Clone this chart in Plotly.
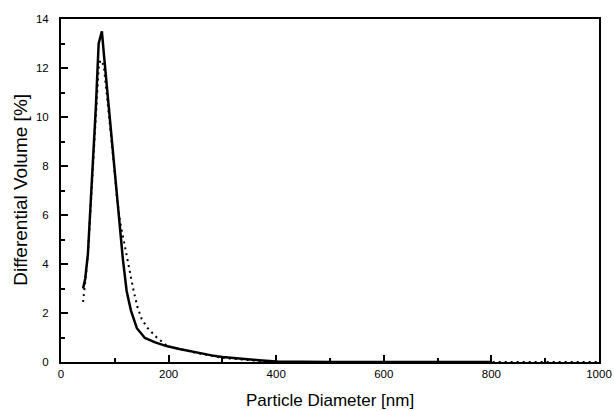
import plotly.graph_objects as go

# solid curve
solid_x = [41, 45, 50, 55, 60, 65, 70, 76, 80, 85, 90, 95, 100, 105, 110, 115, 122, 130, 141,
           156, 175, 196, 220, 254, 280, 300, 330, 368, 400, 450, 500, 600, 700, 800]
solid_y = [3.0, 3.4, 4.4, 6.3, 8.4, 10.5, 13.0, 13.5, 12.5, 11.3, 10.1, 8.85, 7.6, 6.4, 5.2, 4.2, 2.9, 2.1, 1.38,
           0.98, 0.8, 0.65, 0.53, 0.37, 0.27, 0.2, 0.13, 0.07, 0.02, 0.0, 0.0, 0.0, 0.0, 0.0]

# dotted curve
dot_x = [41, 44, 48, 50, 55, 60, 65, 70, 73, 76, 80, 85, 90, 95, 100, 104, 110, 116, 120, 128, 135,
         142, 150, 161, 179, 198, 220, 254, 300, 340, 380, 420, 500, 600, 700, 800, 900, 1000]
dot_y = [2.45, 3.0, 3.9, 4.4, 6.2, 8.2, 10.2, 12.0, 12.3, 12.3, 12.0, 11.0, 9.9, 8.8, 7.7, 6.7, 5.7, 5.0, 4.6, 3.6, 2.9,
         2.25, 1.75, 1.38, 0.98, 0.65, 0.53, 0.36, 0.17, 0.08, 0.02, 0.0, 0.0, 0.0, 0.0, 0.0, 0.0, 0.0]

FONT = "Liberation Sans, Arial, sans-serif"

fig = go.Figure()

fig.add_trace(go.Scatter(x=dot_x, y=dot_y, mode="lines",
                         line=dict(color="black", width=2, dash="2px,4px")))
fig.add_trace(go.Scatter(x=solid_x, y=solid_y, mode="lines",
                         line=dict(color="black", width=2.5)))

axis_font = dict(family=FONT, size=11.5, color="black")

fig.update_xaxes(range=[0, 1000], tickvals=[0, 200, 400, 600, 800, 1000],
                 ticks="inside", ticklen=7, tickwidth=1.5, tickcolor="black",
                 minor=dict(dtick=100, ticks="inside", ticklen=4, tickwidth=1.5, tickcolor="black"),
                 showline=True, linecolor="black", linewidth=2, mirror=True,
                 showgrid=False, zeroline=False, tickfont=axis_font, automargin=False,
                 ticklabeloverflow="allow")

fig.update_yaxes(range=[0, 14], tickvals=[0, 2, 4, 6, 8, 10, 12, 14],
                 ticks="inside", ticklen=7, tickwidth=1.5, tickcolor="black",
                 minor=dict(dtick=1, ticks="inside", ticklen=4, tickwidth=1.5, tickcolor="black"),
                 showline=True, linecolor="black", linewidth=2, mirror=True,
                 showgrid=False, zeroline=False, tickfont=axis_font, automargin=False,
                 ticklabelstandoff=8, ticklabeloverflow="allow")

# axis titles as annotations so the plot area stays put
fig.add_annotation(text="Particle Diameter [nm]", xref="paper", yref="paper",
                   x=0.5, y=-0.112, xanchor="center", yanchor="middle", showarrow=False,
                   font=dict(family=FONT, size=17, color="black"))
fig.add_annotation(text="Differential Volume [%]", xref="paper", yref="paper",
                   x=-0.075, y=0.501, xanchor="center", yanchor="middle", showarrow=False,
                   textangle=-90, font=dict(family=FONT, size=19, color="black"))

fig.update_layout(width=614, height=411, showlegend=False,
                  paper_bgcolor="white", plot_bgcolor="white",
                  margin=dict(l=61, r=15, t=19, b=49))

# drop the default body margin so the 614x411 figure fills the window
fig.write_html("out.html", config={"displayModeBar": False},
               post_script="document.body.style.margin='0';document.body.style.overflow='hidden';")
